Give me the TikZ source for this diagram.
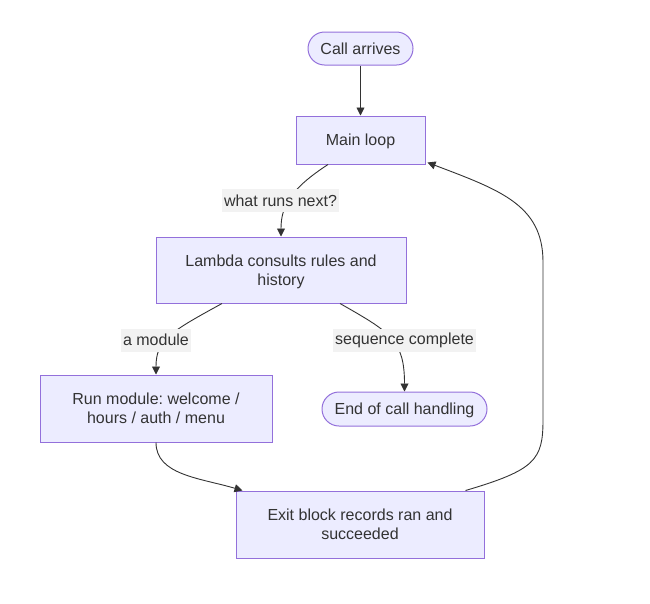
\documentclass[tikz,border=0pt]{standalone}
\usepackage{fontspec}
\setmainfont{Liberation Sans}
\usetikzlibrary{arrows.meta,calc}
\definecolor{nodefill}{HTML}{ECECFF}
\definecolor{nodeborder}{HTML}{9370DB}
\definecolor{txt}{HTML}{333333}
\definecolor{edgecol}{HTML}{333333}
\definecolor{lblbg}{HTML}{F2F2F2}
\frenchspacing
\begin{document}
\begin{tikzpicture}[x=1pt,y=-1pt,
  box/.style={draw=nodeborder,fill=nodefill,line width=1pt,text=txt,align=center,inner sep=0pt,text depth=0pt,font=\fontsize{16}{19}\selectfont},
  stadium/.style={box,rounded corners=16.5pt},
  lbl/.style={fill=lblbg,text=txt,inner sep=0pt,minimum height=23pt,font=\fontsize{16}{19}\selectfont},
  conn/.style={draw=edgecol,line width=0.9pt,-{Triangle[length=8pt,width=8pt]}}]
\useasboundingbox (0,0) rectangle (650,603);
\node[stadium,minimum width=105pt,minimum height=33pt] (call) at (360.5,48.5) {Call arrives};
\node[box,minimum width=129pt,minimum height=48pt] (main) at (360.5,140) {Main loop};
\node[box,minimum width=250pt,minimum height=66pt] (lambda) at (281,270) {Lambda consults rules and\\history};
\node[box,minimum width=232pt,minimum height=67pt] (run) at (156,408.5) {Run module: welcome /\\hours / auth / menu};
\node[stadium,minimum width=165pt,minimum height=34pt,rounded corners=17pt] (endn) at (404.5,409) {End of call handling};
\node[box,minimum width=248pt,minimum height=67pt] (exit) at (360,524.5) {Exit block records ran and\\succeeded};

\draw[conn] (call.south) -- (main.north);
\draw[conn] ($(main.south)+(-32.5,0)$) .. controls (292,188) and (281,205) .. (lambda.north);
\draw[conn] ($(lambda.south)+(-59,0)$) .. controls (170,332) and (156,340) .. (run.north);
\draw[conn] ($(lambda.south)+(59,0)$) .. controls (390,332) and (404.5,340) .. (endn.north);
\draw[conn] (run.south) .. controls (156,475) and (200,478) .. ($(exit.north west)+(7,0)$);
\draw[conn] ($(exit.north east)+(-19,0)$) .. controls (535,470) and (543,460) .. (543,420) -- (543,262) .. controls (543,205) and (500,190) .. ($(main.south east)+(2,-2)$);

\node[lbl,minimum width=117pt] (l1) at (280.5,200.5) {what runs next?};
\node[lbl,minimum width=70pt] (l2) at (156,340) {a module};
\node[lbl,minimum width=143pt] (l3) at (404.5,340) {sequence complete};
\end{tikzpicture}
\end{document}
